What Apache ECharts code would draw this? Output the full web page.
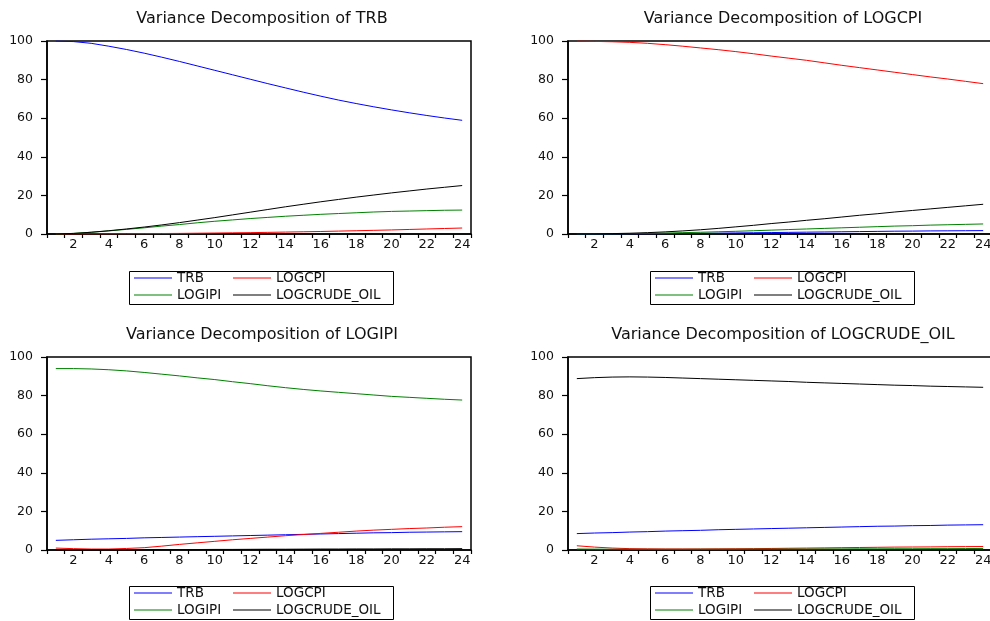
<!DOCTYPE html>
<html>
<head>
<meta charset="utf-8">
<script src="https://cdn.jsdelivr.net/npm/echarts@6/dist/echarts.min.js"></script>
<style>html,body{margin:0;padding:0;background:#fff}#c{width:990px;height:621px}</style>
</head>
<body>
<div id="c"></div>
<script>
const periods = ['1','2','3','4','5','6','7','8','9','10','11','12','13','14','15','16','17','18','19','20','21','22','23','24'];
const seriesNames = ['TRB','LOGCPI','LOGIPI','LOGCRUDE_OIL'];
const panelTitles = ['Variance Decomposition of TRB','Variance Decomposition of LOGCPI','Variance Decomposition of LOGIPI','Variance Decomposition of LOGCRUDE_OIL'];
const yTicks = [0,20,40,60,80,100];

// Panel 1: Variance Decomposition of TRB
const p1_TRB = [100,99.7,98.8,97.3,95.6,93.7,91.6,89.4,87.1,84.8,82.5,80.2,77.9,75.7,73.5,71.4,69.4,67.6,65.9,64.3,62.8,61.4,60.1,58.9];
const p1_LOGCPI = [0,0.02,0.05,0.1,0.15,0.2,0.25,0.3,0.4,0.5,0.6,0.7,0.85,1.0,1.15,1.3,1.5,1.7,1.9,2.1,2.35,2.6,2.85,3.1];
const p1_LOGIPI = [0,0.3,0.9,1.6,2.4,3.2,4.1,4.9,5.8,6.6,7.3,8.0,8.6,9.2,9.7,10.2,10.6,11.0,11.4,11.7,11.9,12.1,12.3,12.4];
const p1_LOGCRUDE_OIL = [0,0.3,0.9,1.7,2.6,3.6,4.7,5.9,7.2,8.5,9.9,11.3,12.7,14.1,15.4,16.7,17.9,19.1,20.2,21.3,22.3,23.3,24.2,25.1];

// Panel 2: Variance Decomposition of LOGCPI
const p2_TRB = [0,0.02,0.05,0.1,0.15,0.2,0.3,0.35,0.45,0.55,0.65,0.75,0.85,0.95,1.05,1.15,1.25,1.35,1.45,1.5,1.6,1.65,1.7,1.75];
const p2_LOGCPI = [100,99.8,99.6,99.3,98.8,98.1,97.3,96.4,95.5,94.5,93.4,92.2,91.1,90.0,88.7,87.4,86.2,85.0,83.8,82.6,81.4,80.3,79.1,77.9];
const p2_LOGIPI = [0,0.05,0.1,0.2,0.35,0.5,0.7,0.9,1.15,1.4,1.7,2.0,2.3,2.6,2.9,3.2,3.5,3.8,4.1,4.3,4.6,4.8,5.0,5.2];
const p2_LOGCRUDE_OIL = [0,0.05,0.2,0.4,0.7,1.1,1.6,2.2,2.9,3.7,4.5,5.4,6.2,7.1,7.9,8.8,9.7,10.5,11.4,12.2,13.0,13.8,14.6,15.4];

// Panel 3: Variance Decomposition of LOGIPI
const p3_TRB = [5.0,5.3,5.6,5.8,6.0,6.3,6.5,6.7,6.9,7.1,7.3,7.5,7.7,7.9,8.1,8.3,8.5,8.7,8.9,9.0,9.2,9.3,9.4,9.5];
const p3_LOGCPI = [1.0,0.7,0.5,0.5,0.8,1.2,2.0,2.9,3.7,4.5,5.3,6.0,6.7,7.4,8.0,8.6,9.2,9.8,10.3,10.7,11.1,11.4,11.8,12.1];
const p3_LOGIPI = [94.0,94.0,93.8,93.4,92.8,92.0,91.1,90.2,89.2,88.3,87.2,86.2,85.1,84.1,83.2,82.4,81.7,81.0,80.3,79.6,79.1,78.6,78.1,77.7];
const p3_LOGCRUDE_OIL = [0,0,0.05,0.1,0.1,0.15,0.2,0.2,0.25,0.3,0.3,0.35,0.4,0.4,0.45,0.5,0.5,0.55,0.55,0.6,0.6,0.65,0.65,0.7];

// Panel 4: Variance Decomposition of LOGCRUDE_OIL
const p4_TRB = [8.5,8.8,9.0,9.3,9.5,9.8,10.0,10.2,10.5,10.7,10.9,11.1,11.3,11.5,11.7,11.9,12.1,12.3,12.4,12.6,12.7,12.9,13.0,13.1];
const p4_LOGCPI = [2.2,1.5,1.0,0.7,0.6,0.55,0.55,0.55,0.6,0.65,0.7,0.8,0.9,1.0,1.1,1.2,1.3,1.4,1.5,1.55,1.6,1.7,1.75,1.8];
const p4_LOGIPI = [0.5,0.45,0.4,0.35,0.35,0.35,0.35,0.4,0.4,0.4,0.45,0.45,0.5,0.5,0.55,0.55,0.6,0.6,0.65,0.65,0.7,0.7,0.75,0.8];
const p4_LOGCRUDE_OIL = [88.8,89.3,89.6,89.7,89.6,89.4,89.1,88.8,88.5,88.2,87.9,87.6,87.3,86.9,86.6,86.3,86.0,85.7,85.4,85.2,84.9,84.7,84.5,84.3];

const panelData = [
  [p1_TRB,p1_LOGCPI,p1_LOGIPI,p1_LOGCRUDE_OIL],
  [p2_TRB,p2_LOGCPI,p2_LOGIPI,p2_LOGCRUDE_OIL],
  [p3_TRB,p3_LOGCPI,p3_LOGIPI,p3_LOGCRUDE_OIL],
  [p4_TRB,p4_LOGCPI,p4_LOGIPI,p4_LOGCRUDE_OIL]
];
const colors = ['#0000ff','#ff0000','#008000','#000000'];
const FONT = 'DejaVu Sans';

// layout
const grids = [
  {left:47, top:41, width:424, height:193},
  {left:568, top:41, width:424, height:193},
  {left:47, top:357, width:424, height:193},
  {left:568, top:357, width:424, height:193}
];
const titlePos = [{x:257,y:6},{x:778,y:6},{x:257,y:322},{x:778,y:322}];
const legendBox = [
  {x:127,y:269},{x:648,y:269},{x:127,y:584},{x:648,y:584}
];

const option = {
  animation:false,
  backgroundColor:'#fff',
  title:[], grid:[], xAxis:[], yAxis:[], series:[], legend:[], graphic:[]
};

const LINE_ICON = 'path://M0,4.5L38,4.5L38,5.5L0,5.5Z';
function legItem(s){
  return {name:seriesNames[s], icon:LINE_ICON, itemStyle:{color:colors[s], borderWidth:0}};
}

for (let i=0;i<4;i++){
  option.title.push({
    text: panelTitles[i], left: titlePos[i].x, top: titlePos[i].y, textAlign:'center',
    textStyle:{fontFamily:FONT, fontSize:16, fontWeight:'normal', color:'#111'}
  });
  option.grid.push(Object.assign({show:true, borderColor:'#000', borderWidth:1.5, backgroundColor:'transparent', containLabel:false, outerBoundsMode:'none'}, grids[i]));
  option.xAxis.push({
    type:'category', gridIndex:i, data:periods, boundaryGap:true,
    axisLine:{show:true, lineStyle:{color:'#000', width:1.5}},
    axisTick:{show:true, interval:0, length:4, lineStyle:{color:'#000', width:1.2}},
    axisLabel:{interval:function(idx){return idx % 2 === 1;}, fontFamily:FONT, fontSize:13, color:'#111', margin:4},
    splitLine:{show:false}
  });
  option.yAxis.push({
    type:'value', gridIndex:i, min:0, max:100, interval:20,
    axisLine:{show:true, lineStyle:{color:'#000', width:1.5}},
    axisTick:{show:true, length:6, lineStyle:{color:'#000', width:1.2}},
    axisLabel:{fontFamily:FONT, fontSize:12.5, color:'#111', margin:14},
    splitLine:{show:false}
  });
  for (let s=0;s<4;s++){
    option.series.push({
      type:'line', name:seriesNames[s], xAxisIndex:i, yAxisIndex:i,
      data: panelData[i][s], symbol:'none', smooth:false,
      lineStyle:{color:colors[s], width:1}, itemStyle:{color:colors[s]}
    });
  }
  const lb = legendBox[i];
  const legCommon = {
    orient:'vertical', padding:0, itemWidth:38, itemHeight:10, itemGap:3,
    textStyle:{fontFamily:FONT, fontSize:13.5, color:'#111', lineHeight:13},
    selectedMode:false
  };
  option.legend.push(Object.assign({}, legCommon, {left: lb.x+7, top: lb.y+2, data:[legItem(0), legItem(2)]}));
  option.legend.push(Object.assign({}, legCommon, {left: lb.x+106, top: lb.y+2, data:[legItem(1), legItem(3)]}));
  option.graphic.push({
    type:'rect', left: lb.x, top: lb.y,
    shape:{width:264, height:33},
    style:{fill:'none', stroke:'#000', lineWidth:1}
  });
}

const chart = echarts.init(document.getElementById('c'), null, {renderer:'canvas'});
chart.setOption(option);
</script>
</body>
</html>
